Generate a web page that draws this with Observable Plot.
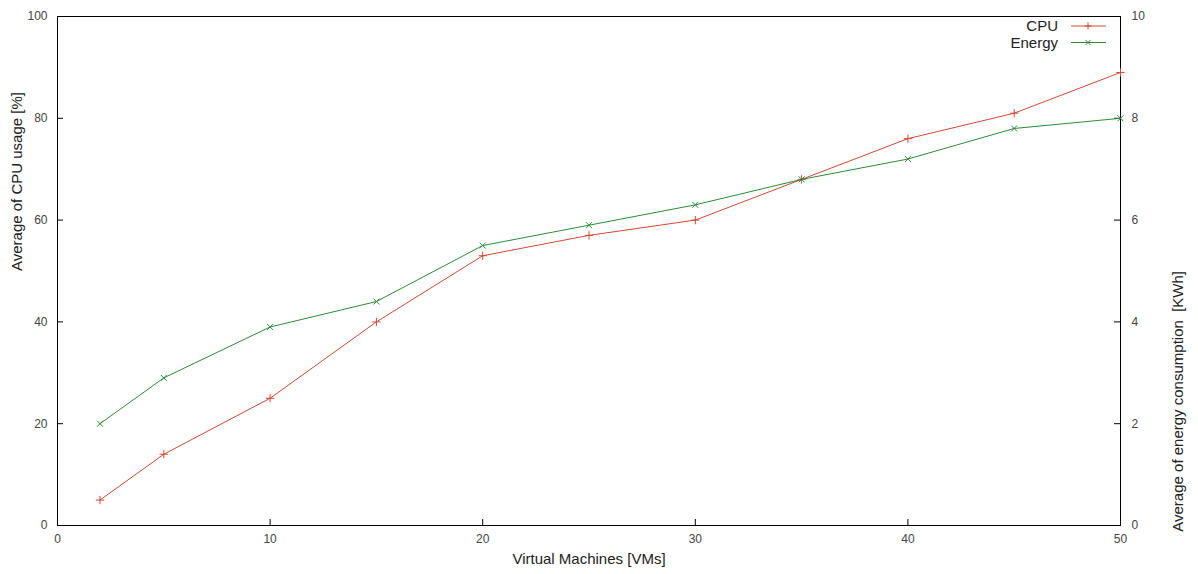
<!DOCTYPE html>
<html>
<head>
<meta charset="utf-8">
<script src="https://cdn.jsdelivr.net/npm/d3@7"></script>
<script src="https://cdn.jsdelivr.net/npm/@observablehq/plot@0.6"></script>
<style>
  html, body { margin: 0; padding: 0; background: #fff; }
  #chart svg { display: block; font-family: "Liberation Sans", Arial, sans-serif; }
</style>
</head>
<body>
<div id="chart"></div>
<script>
// Data
const vms = [2, 5, 10, 15, 20, 25, 30, 35, 40, 45, 50];
const cpuUsage = [5, 14, 25, 40, 53, 57, 60, 68, 76, 81, 89];          // %
const energyKWh = [2.0, 2.9, 3.9, 4.4, 5.5, 5.9, 6.3, 6.8, 7.2, 7.8, 8.0]; // KWh
const xTicks = [0, 10, 20, 30, 40, 50];
const yTicksLeft = [0, 20, 40, 60, 80, 100];
const yTicksRight = [0, 2, 4, 6, 8, 10];
const seriesNames = ["CPU", "Energy"];
const colors = {CPU: "#cf4a36", Energy: "#2f8a3a"};

// right axis (0..10 KWh) maps onto left axis range (0..100 %)
const ratio = 100 / 10;

const cpuData = vms.map((v, i) => ({vm: v, value: cpuUsage[i]}));
const energyData = vms.map((v, i) => ({vm: v, value: energyKWh[i]}));

const W = 1198, H = 574;
const mL = 57, mR = 78, mT = 16, mB = 49;
const frameW = W - mL - mR, frameH = H - mT - mB;
const tickLen = 6;

const chart = Plot.plot({
  width: W,
  height: H,
  marginLeft: mL,
  marginRight: mR,
  marginTop: mT,
  marginBottom: mB,
  style: {background: "#fff", fontFamily: "'Liberation Sans', Arial, sans-serif", color: "#444"},
  x: {domain: [0, 50]},
  y: {domain: [0, 100]},
  marks: [
    Plot.axisX(xTicks, {anchor: "bottom", tickSize: 0, tickPadding: 9, fontSize: 12, label: null}),
    Plot.axisY(yTicksLeft, {anchor: "left", tickSize: 0, tickPadding: 10, fontSize: 12, label: null}),
    Plot.axisY(yTicksRight.map(d => d * ratio), {anchor: "right", tickSize: 0, tickPadding: 11, fontSize: 12, label: null, tickFormat: d => d / ratio}),
    // inward ticks
    Plot.tickX(xTicks, {x: d => d, insetTop: frameH - tickLen, stroke: "#000"}),
    Plot.tickY(yTicksLeft, {y: d => d, insetRight: frameW - tickLen, stroke: "#000"}),
    Plot.tickY(yTicksRight.map(d => d * ratio), {y: d => d, insetLeft: frameW - tickLen, stroke: "#000"}),
    Plot.frame({stroke: "#000", strokeWidth: 1}),
    Plot.line(cpuData, {x: "vm", y: "value", stroke: colors.CPU, strokeWidth: 1}),
    Plot.dot(cpuData, {x: "vm", y: "value", symbol: "plus", r: 2.8, stroke: colors.CPU, strokeWidth: 1, fill: "none"}),
    Plot.line(energyData, {x: "vm", y: d => d.value * ratio, stroke: colors.Energy, strokeWidth: 1}),
    Plot.dot(energyData, {x: "vm", y: d => d.value * ratio, symbol: "times", r: 2.8, stroke: colors.Energy, strokeWidth: 1, fill: "none"}),
    // axis titles
    Plot.text(["Virtual Machines [VMs]"], {frameAnchor: "bottom", dy: 38, text: d => d, fontSize: 15, fill: "#222"}),
    Plot.text(["Average of CPU usage [%]"], {frameAnchor: "left", dx: -40, rotate: -90, text: d => d, fontSize: 15, fill: "#222"}),
    Plot.text(["Average of energy consumption  [KWh]"], {frameAnchor: "right", dx: 58, rotate: -90, text: d => d, fontSize: 15, fill: "#222"})
  ]
});

document.getElementById("chart").appendChild(chart);

// Legend (layout only): samples drawn inside the frame at the top-right
(function () {
  const svg = d3.select(chart);
  const g = svg.append("g").attr("font-size", 15).attr("fill", "#222");
  const right = W - mR;
  const rows = seriesNames.map((name, i) => ({
    name,
    y: mT + 10 + i * 16.5,
    color: colors[name],
    symbol: i === 0 ? d3.symbolPlus : d3.symbolTimes
  }));
  rows.forEach(r => {
    g.append("text").attr("x", right - 62).attr("y", r.y).attr("dy", "0.35em")
      .attr("text-anchor", "end").text(r.name);
    g.append("line").attr("x1", right - 49).attr("x2", right - 14)
      .attr("y1", r.y).attr("y2", r.y).attr("stroke", r.color).attr("stroke-width", 1);
    g.append("path").attr("d", d3.symbol(r.symbol, 18)())
      .attr("transform", `translate(${right - 32},${r.y})`)
      .attr("fill", "none").attr("stroke", r.color).attr("stroke-width", 1);
  });
})();
</script>
</body>
</html>
